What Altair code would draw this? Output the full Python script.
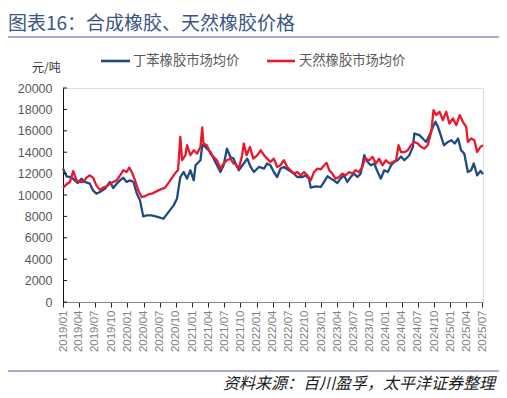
import altair as alt
import pandas as pd

title_text = "图表16：合成橡胶、天然橡胶价格"
source_text = "资料来源：百川盈孚，太平洋证券整理"
unit_text = "元/吨"
series_names = ["丁苯橡胶市场均价", "天然橡胶市场均价"]
series_colors = ["#1F4A85", "#E8192C"]

blue_dates = [
    "2019-01-01", "2019-01-21", "2019-02-19", "2019-03-08", "2019-03-26", "2019-04-15",
    "2019-05-04", "2019-06-02", "2019-06-20", "2019-07-09", "2019-07-28", "2019-08-26",
    "2019-09-24", "2019-10-12", "2019-11-01", "2019-11-20", "2019-12-08", "2019-12-27",
    "2020-01-15", "2020-02-04", "2020-02-23", "2020-03-12", "2020-03-30", "2020-04-19",
    "2020-05-17", "2020-06-24", "2020-07-22", "2020-08-20", "2020-09-18", "2020-10-07",
    "2020-10-26", "2020-11-14", "2020-12-03", "2020-12-22", "2021-01-10", "2021-01-20",
    "2021-02-17", "2021-02-27", "2021-03-16", "2021-04-14", "2021-05-12", "2021-06-10",
    "2021-06-28", "2021-07-17", "2021-08-05", "2021-08-24", "2021-09-03", "2021-09-22",
    "2021-10-20", "2021-11-09", "2021-11-28", "2021-12-16", "2022-01-14", "2022-02-12",
    "2022-03-01", "2022-03-20", "2022-04-08", "2022-04-27", "2022-05-16", "2022-06-04",
    "2022-07-02", "2022-07-31", "2022-08-19", "2022-09-17", "2022-10-05", "2022-10-24",
    "2022-11-03", "2022-12-01", "2022-12-30", "2023-01-18", "2023-02-06", "2023-02-25",
    "2023-03-14", "2023-04-02", "2023-04-21", "2023-05-10", "2023-05-29", "2023-06-17",
    "2023-07-06", "2023-07-25", "2023-08-13", "2023-09-02", "2023-09-21", "2023-10-09",
    "2023-10-28", "2023-11-17", "2023-12-05", "2023-12-24", "2024-01-13", "2024-02-01",
    "2024-02-19", "2024-03-09", "2024-03-28", "2024-04-16", "2024-05-14", "2024-06-03",
    "2024-06-12", "2024-07-10", "2024-07-29", "2024-08-17", "2024-09-05", "2024-09-25",
    "2024-10-09", "2024-10-23", "2024-11-11", "2024-11-26", "2024-12-19", "2025-01-07",
    "2025-01-26", "2025-02-14", "2025-03-03", "2025-03-21", "2025-04-10", "2025-04-29",
    "2025-05-14", "2025-06-02", "2025-06-21", "2025-07-05",
]
blue_values = [
    12470, 11750, 11650, 11370, 11120, 11530,
    11220, 11060, 10430, 10120, 10280, 10590,
    11220, 10650, 11060, 11370, 11620, 11220,
    11370, 11220, 10120, 9500, 8000, 8090,
    8090, 7930, 7780, 8400, 9030, 9660,
    11680, 12150, 11530, 12310, 11370, 12780,
    13250, 14650, 14500, 14030, 13090, 12150,
    12780, 14340, 13560, 13400, 12940, 12310,
    12940, 13400, 12620, 12150, 12620, 12470,
    12940, 12780, 12150, 11680, 12470, 12620,
    12310, 12000, 11680, 11680, 11840, 11530,
    10690, 10810, 10750, 11220, 11750, 11530,
    11370, 11120, 11530, 11840, 11220, 11680,
    12000, 11680, 12000, 13720, 13090, 12780,
    12940, 12150, 11530, 12310, 12150, 12780,
    13090, 13250, 13600, 13250, 13720, 14500,
    15750, 15590, 15280, 14960, 15590, 16370,
    16840, 16370, 15430, 14650, 14960, 15120,
    14810, 15280, 14180, 13870, 12150, 12310,
    12940, 11840, 12250, 11950,
]

red_dates = [
    "2019-01-01", "2019-01-21", "2019-02-09", "2019-02-28", "2019-03-18", "2019-04-06",
    "2019-04-25", "2019-05-14", "2019-06-02", "2019-06-20", "2019-07-09", "2019-07-28",
    "2019-08-16", "2019-09-05", "2019-09-24", "2019-10-12", "2019-11-01", "2019-11-20",
    "2019-12-08", "2019-12-27", "2020-01-11", "2020-01-25", "2020-02-13", "2020-03-02",
    "2020-03-21", "2020-04-09", "2020-04-28", "2020-05-17", "2020-06-24", "2020-08-01",
    "2020-08-30", "2020-09-28", "2020-10-13", "2020-10-26", "2020-11-05", "2020-11-24",
    "2020-12-03", "2020-12-22", "2021-01-10", "2021-01-29", "2021-02-17", "2021-02-27",
    "2021-03-06", "2021-03-25", "2021-04-14", "2021-05-02", "2021-05-21", "2021-06-10",
    "2021-06-28", "2021-07-17", "2021-08-05", "2021-08-24", "2021-09-03", "2021-09-22",
    "2021-10-11", "2021-10-20", "2021-11-05", "2021-11-24", "2021-12-13", "2022-01-05",
    "2022-01-24", "2022-02-12", "2022-03-01", "2022-03-20", "2022-04-08", "2022-04-27",
    "2022-05-16", "2022-06-04", "2022-06-23", "2022-07-12", "2022-07-31", "2022-08-19",
    "2022-09-07", "2022-09-26", "2022-10-15", "2022-11-03", "2022-11-22", "2022-12-11",
    "2022-12-30", "2023-01-18", "2023-02-01", "2023-02-16", "2023-03-05", "2023-03-24",
    "2023-04-12", "2023-05-01", "2023-05-19", "2023-06-08", "2023-06-27", "2023-07-15",
    "2023-08-03", "2023-08-22", "2023-09-07", "2023-09-30", "2023-10-19", "2023-11-07",
    "2023-11-25", "2023-12-14", "2024-01-03", "2024-01-22", "2024-02-10", "2024-02-29",
    "2024-03-14", "2024-03-28", "2024-04-16", "2024-05-05", "2024-05-23", "2024-06-12",
    "2024-07-01", "2024-07-19", "2024-08-07", "2024-08-26", "2024-09-15", "2024-09-28",
    "2024-10-13", "2024-11-01", "2024-11-20", "2024-12-09", "2024-12-27", "2025-01-16",
    "2025-02-04", "2025-02-23", "2025-03-13", "2025-04-01", "2025-04-10", "2025-04-29",
    "2025-05-17", "2025-06-02", "2025-06-21", "2025-07-05",
]
red_values = [
    10690, 11000, 11220, 12240, 11370, 11220,
    11220, 11620, 11840, 11620, 10900, 10500,
    10690, 10810, 11060, 11220, 11370, 11840,
    12310, 12150, 12560, 12150, 11370, 10430,
    9810, 9900, 10050, 10120, 10430, 10690,
    11370, 12060, 12310, 15430, 13250, 13720,
    14650, 13720, 14180, 13870, 14500, 16310,
    14800, 14650, 13870, 13560, 13250, 12470,
    12940, 13250, 13400, 12940, 12940, 12470,
    13720, 14810, 13720, 14500, 13400, 13720,
    14180, 13720, 13400, 13090, 13400, 12620,
    12780, 13250, 12620, 12310, 12000, 12150,
    11840, 12150, 11840, 11370, 12150, 12470,
    12400, 12780, 13000, 12310, 12000, 11530,
    11680, 12000, 11840, 12150, 12000, 12310,
    12150, 12620, 13400, 13250, 13560, 12940,
    13400, 12780, 13250, 12940, 13090, 13250,
    14650, 14000, 14000, 14180, 14650, 14960,
    14810, 14500, 14340, 14650, 15900, 17930,
    17470, 17780, 17000, 17780, 16680, 17150,
    16530, 17470, 16840, 16370, 14960, 15280,
    15120, 14030, 14500, 14650,
]

y_ticks = [0, 2000, 4000, 6000, 8000, 10000, 12000, 14000, 16000, 18000, 20000]
x_tick_years = [2019]*4 + [2020]*4 + [2021]*4 + [2022]*4 + [2023]*4 + [2024]*4 + [2025]*3
x_tick_months = [1, 4, 7, 10]*6 + [1, 4, 7]

df = pd.concat([
    pd.DataFrame({"date": blue_dates, "value": blue_values, "series": series_names[0]}),
    pd.DataFrame({"date": red_dates, "value": red_values, "series": series_names[1]}),
])

W, H = 420, 214
FONT = "Noto Sans CJK SC"
NUMFONT = "Liberation Sans"

x_values = [alt.DateTime(year=y, month=m, date=1, utc=True) for y, m in zip(x_tick_years, x_tick_months)]
y_scale = alt.Scale(domain=[0, 20000], nice=False)
y_axis = alt.Axis(values=y_ticks, title=None, grid=False, ticks=False,
                  domainColor="#111111", labelFont=NUMFONT, labelFontSize=12.5,
                  labelColor="#595959", labelPadding=11, format="d",
                  labelOverlap=False, labelFlush=False)

lines = alt.Chart(df).mark_line(strokeWidth=2.3, strokeJoin="round").encode(
    x=alt.X("date:T",
            scale=alt.Scale(type="utc",
                            domain=[alt.DateTime(year=2019, month=1, date=1, utc=True),
                                    alt.DateTime(year=2025, month=7, date=5, utc=True)]),
            axis=alt.Axis(values=x_values, format="%Y/%m", labelAngle=270, title=None,
                          grid=False, tickSize=5, tickColor="#222222", domainColor="#888888",
                          labelFont=NUMFONT, labelFontSize=11.5, labelColor="#808080",
                          labelPadding=3, labelFlush=False, labelOverlap=False)),
    y=alt.Y("value:Q", scale=y_scale, axis=y_axis),
    color=alt.Color("series:N", scale=alt.Scale(domain=series_names, range=series_colors), legend=None),
    detail="series:N",
)

ytick_layer = alt.Chart(pd.DataFrame({"v": y_ticks})).mark_rule(color="#111111", strokeWidth=1).encode(
    y=alt.Y("v:Q", scale=y_scale, axis=y_axis),
    x=alt.value(0), x2=alt.value(4),
)

def text_layer(txt, x, y, size, color, align="left", font=FONT, style="normal", weight="normal"):
    return alt.Chart(pd.DataFrame({"t": [txt]})).mark_text(
        align=align, baseline="middle", fontSize=size, color=color, font=font,
        fontStyle=style, fontWeight=weight,
    ).encode(text="t:N", x=alt.value(x), y=alt.value(y))

def rule_layer(x1, x2, y, color, width):
    return alt.Chart(pd.DataFrame({"a": [0]})).mark_rule(color=color, strokeWidth=width).encode(
        x=alt.value(x1), x2=alt.value(x2), y=alt.value(y))

title_l = text_layer(title_text, -55, -64, 19, "#3A5584")
top_line = rule_layer(-58, 438, -51, "#A3A9CF", 2)
bottom_line = rule_layer(-58, 438, 283, "#A3A9CF", 2)
source_l = text_layer(source_text, 432, 296, 16, "#1a1a1a", align="right", style="italic")
unit_l = text_layer(unit_text, -31, -20, 12, "#333333")
leg1_line = rule_layer(38, 67, -27, series_colors[0], 2.6)
leg1_text = text_layer(series_names[0], 70, -27, 13.3, "#595959")
leg2_line = rule_layer(204, 232, -27, series_colors[1], 2.6)
leg2_text = text_layer(series_names[1], 236, -27, 13.3, "#595959")

chart = alt.layer(
    lines, ytick_layer, title_l, top_line, bottom_line, source_l, unit_l,
    leg1_line, leg1_text, leg2_line, leg2_text,
).properties(
    width=W, height=H,
    autosize=alt.AutoSizeParams(type="none"),
    padding={"left": 55, "top": 80, "right": 16, "bottom": 92},
).configure_view(stroke=None).configure(background="white")

chart.save("out.html", embed_options={"renderer": "svg", "actions": False})
